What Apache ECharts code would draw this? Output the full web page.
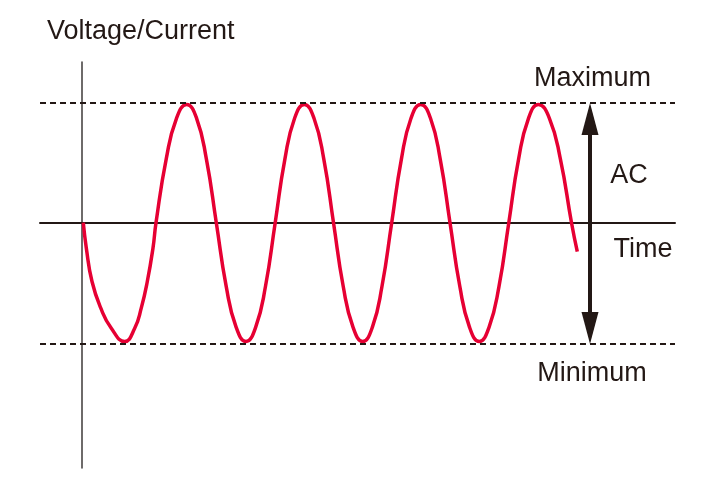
<!DOCTYPE html>
<html>
<head>
<meta charset="utf-8">
<script src="https://cdn.jsdelivr.net/npm/echarts@6/dist/echarts.min.js"></script>
<style>html,body{margin:0;padding:0;background:#fff}#c{width:720px;height:480px}</style>
</head>
<body>
<div id="c"></div>
<script>
// time (arbitrary units, 0 = vertical axis) and signal value (1 = maximum)
var timeValues = [
  1.8, 4.8, 10.5, 19.2, 29.8, 43.2, 53.2, 59.8, 65.8, 71.5, 74.5,
  84.7, 95.0, 105.2, 115.1, 124.9, 134.8,
  144.7, 154.6, 164.5, 174.2, 184.0, 193.7,
  203.4, 213.1, 222.8, 232.5, 242.3, 252,
  261.7, 271.5, 281.2, 290.9, 300.5, 310.2,
  319.9, 329.5, 339.2, 349.0, 358.7, 368.5,
  378.3, 388.0, 397.8, 407.6, 417.5, 427.3,
  437.1, 447.0, 456.8, 467.9, 478.9, 490,
  495.8
];
var signalValues = [
  0, -0.21, -0.49, -0.71, -0.88, -0.99, -0.88, -0.71, -0.49, -0.21, 0,
  0.53, 0.87, 0.985, 0.87, 0.53, 0,
  -0.53, -0.87, -0.99, -0.87, -0.53, 0,
  0.53, 0.87, 0.985, 0.87, 0.53, 0,
  -0.53, -0.87, -0.99, -0.87, -0.53, 0,
  0.53, 0.87, 0.985, 0.87, 0.53, 0,
  -0.53, -0.87, -0.99, -0.87, -0.53, 0,
  0.53, 0.87, 0.985, 0.87, 0.53, 0,
  -0.242
];
var maximumLevel = 1.0;
var minimumLevel = -1.01;
var acArrowTime = 508.5;
var acArrowTop = 0.864;
var acArrowBottom = -0.8775;
var labels = { yName: 'Voltage/Current', xName: 'Time', max: 'Maximum', min: 'Minimum', ac: 'AC' };

var wave = timeValues.map(function (t, i) { return [t, signalValues[i]]; });
var ink = '#231815';
var font = '27px "Liberation Sans", Arial, Helvetica, sans-serif';

var chart = echarts.init(document.getElementById('c'), null, { renderer: 'canvas' });
chart.setOption({
  animation: false,
  backgroundColor: '#ffffff',
  grid: { left: 40, right: 45, top: 62, bottom: 12 },
  xAxis: {
    type: 'value', min: -41.5, max: 593.5,
    axisLine: { show: true, onZero: true, lineStyle: { color: ink, width: 2 } },
    axisTick: { show: false }, axisLabel: { show: false }, splitLine: { show: false }
  },
  yAxis: {
    type: 'value', min: -2.044, max: 1.339,
    axisLine: { show: true, onZero: true, lineStyle: { color: '#3e3a39', width: 1.5 } },
    axisTick: { show: false }, axisLabel: { show: false }, splitLine: { show: false }
  },
  series: [{
    type: 'line',
    data: wave,
    showSymbol: false,
    smooth: 0.5,
    lineStyle: { color: '#e60033', width: 3.5 },
    z: 3,
    markLine: {
      silent: true,
      animation: false,
      label: { show: false },
      emphasis: { disabled: true },
      symbol: ['none', 'none'],
      data: [
        { yAxis: maximumLevel, lineStyle: { color: ink, width: 2, type: [6, 4] } },
        { yAxis: minimumLevel, lineStyle: { color: ink, width: 2, type: [6, 4] } },
        [
          { coord: [acArrowTime, acArrowTop], symbol: 'triangle', symbolSize: [17, 32], lineStyle: { color: ink, width: 4, type: 'solid' } },
          { coord: [acArrowTime, acArrowBottom], symbol: 'triangle', symbolSize: [17, 32] }
        ]
      ]
    }
  }],
  graphic: [
    { type: 'text', left: 47, top: 18, style: { text: labels.yName, font: font, fill: ink } },
    { type: 'text', x: 592.5, y: 79, style: { text: labels.max, font: font, fill: ink, align: 'center', verticalAlign: 'middle' } },
    { type: 'text', x: 629, y: 176, style: { text: labels.ac, font: font, fill: ink, align: 'center', verticalAlign: 'middle' } },
    { type: 'text', x: 643, y: 250, style: { text: labels.xName, font: font, fill: ink, align: 'center', verticalAlign: 'middle' } },
    { type: 'text', x: 592, y: 374, style: { text: labels.min, font: font, fill: ink, align: 'center', verticalAlign: 'middle' } }
  ]
});
</script>
</body>
</html>
